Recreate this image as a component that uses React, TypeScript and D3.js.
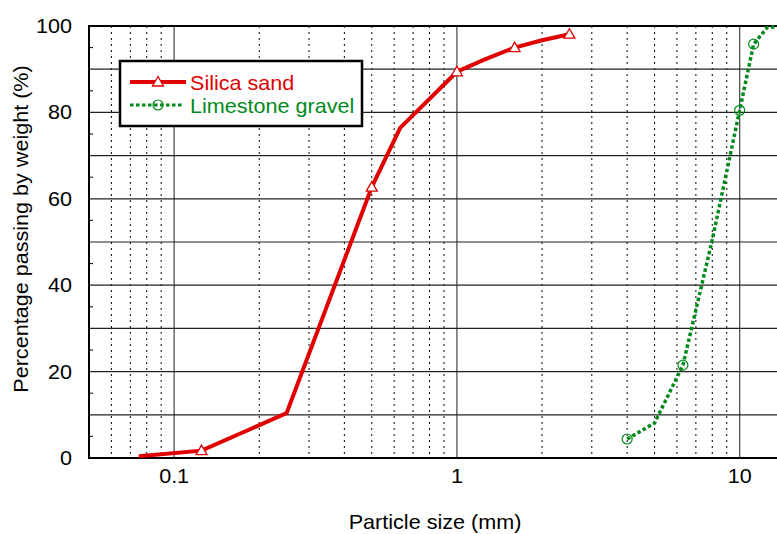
import React from "react";
import * as d3 from "d3";

const sandSize = [0.075, 0.125, 0.25, 0.5, 0.63, 1.0, 1.25, 1.6, 2.0, 2.5];
const sandPass = [0.4, 1.7, 10.4, 62.7, 76.4, 89.4, 92.2, 95.0, 96.7, 98.1];
const sandMarked = [false, true, false, true, false, true, false, true, false, true];

const gravelSize = [4.0, 5.0, 6.3, 8.0, 10.0, 11.2, 12.5, 14.0, 16.0];
const gravelPass = [4.4, 8.1, 21.5, 50.5, 80.5, 95.8, 99.6, 100, 100];
const gravelMarked = [true, false, true, false, true, true, false, false, false];

const yTicks = [0, 20, 40, 60, 80, 100];
const xTickLabels = [0.1, 1, 10];
const seriesNames = ["Silica sand", "Limestone gravel"];

const W = 777;
const H = 534;
const M = { left: 89, top: 26, right: 781, bottom: 458 };
const SX = 1.08;

export default function App() {
  const x = d3.scaleLog().domain([0.05, 14]).range([M.left, M.right]);
  const y = d3.scaleLinear().domain([0, 100]).range([M.bottom, M.top]);
  const font = "'Liberation Sans', Arial, sans-serif";

  const minor: number[] = [];
  [0.01, 0.1, 1, 10].forEach((d) => {
    for (let k = 2; k <= 9; k++) {
      const v = d * k;
      if (v > 0.05 && v < 14) minor.push(v);
    }
  });
  const hGrid = d3.range(10, 100, 10);
  const yMinor = d3.range(5, 100, 10);

  const line = d3
    .line<[number, number]>()
    .x((d) => x(d[0]))
    .y((d) => y(d[1]));

  const sandPts = sandSize.map((s, i) => [s, sandPass[i]] as [number, number]);
  const gravelPts = gravelSize.map((s, i) => [s, gravelPass[i]] as [number, number]);

  const red = "#e00000";
  const green = "#008a1c";

  const tri = (cx: number, cy: number, key: string) => (
    <path
      key={key}
      d={`M${cx},${cy - 5.5} L${cx + 5.5},${cy + 4} L${cx - 5.5},${cy + 4} Z`}
      fill="white"
      stroke={red}
      strokeWidth={1.3}
    />
  );
  const circ = (cx: number, cy: number, key: string) => (
    <circle key={key} cx={cx} cy={cy} r={5} fill="none" stroke={green} strokeWidth={1.2} />
  );

  const T = (
    px: number,
    py: number,
    s: string,
    anchor: "start" | "middle" | "end",
    fill = "#000",
    size = 20,
    key?: string
  ) => (
    <g key={key} transform={`translate(${px},${py}) scale(${SX},1)`}>
      <text x={0} y={0} textAnchor={anchor} fontSize={size} fill={fill}>
        {s}
      </text>
    </g>
  );

  return (
    <svg
      width={W}
      height={H}
      style={{ position: "absolute", left: 0, top: 0, background: "white" }}
      fontFamily={font}
    >
      <defs>
        <clipPath id="plot">
          <rect x={M.left} y={M.top - 4} width={M.right - M.left} height={M.bottom - M.top + 4} />
        </clipPath>
      </defs>
      <rect x={0} y={0} width={W} height={H} fill="white" />
      {minor.map((v) => (
        <line
          key={"mv" + v}
          x1={x(v)}
          x2={x(v)}
          y1={M.top}
          y2={M.bottom}
          stroke="#000"
          strokeWidth={1}
          strokeDasharray="2,4"
        />
      ))}
      {xTickLabels.map((v) => (
        <line key={"Mv" + v} x1={x(v)} x2={x(v)} y1={M.top} y2={M.bottom} stroke="#444" strokeWidth={1.2} />
      ))}
      {hGrid.map((v) => (
        <line key={"h" + v} x1={M.left} x2={M.right} y1={y(v)} y2={y(v)} stroke="#222" strokeWidth={1.2} />
      ))}
      {yMinor.map((v) => (
        <g key={"ym" + v}>
          <line x1={M.left} x2={M.left + 4} y1={y(v)} y2={y(v)} stroke="#000" strokeWidth={1} />
          <line x1={M.right - 4} x2={M.right} y1={y(v)} y2={y(v)} stroke="#000" strokeWidth={1} />
        </g>
      ))}
      <rect
        x={M.left}
        y={M.top}
        width={M.right - M.left}
        height={M.bottom - M.top}
        fill="none"
        stroke="#000"
        strokeWidth={2}
      />
      {yTicks.map((v) => T(72, y(v) + 7, String(v), "end", "#000", 20, "yt" + v))}
      {xTickLabels.map((v) => T(x(v), 483, String(v), "middle", "#000", 20, "xt" + v))}
      {T(435, 529, "Particle size (mm)", "middle")}
      <g transform={`translate(28,229) rotate(-90) scale(${SX},1)`}>
        <text x={0} y={0} textAnchor="middle" fontSize={20} fill="#000">
          Percentage passing by weight (%)
        </text>
      </g>
      <g clipPath="url(#plot)">
        <path d={line(sandPts) || ""} fill="none" stroke={red} strokeWidth={4} strokeLinejoin="miter" />
        {sandPts.map((p, i) => (sandMarked[i] ? tri(x(p[0]), y(p[1]), "s" + i) : null))}
        <path
          d={line(gravelPts) || ""}
          fill="none"
          stroke={green}
          strokeWidth={3.5}
          strokeDasharray="3.5,2.5"
        />
        {gravelPts.map((p, i) => (gravelMarked[i] ? circ(x(p[0]), y(p[1]), "g" + i) : null))}
      </g>
      <rect x={120} y={61} width={242} height={65} fill="white" stroke="#000" strokeWidth={2.5} />
      <line x1={130} x2={186} y1={82} y2={82} stroke={red} strokeWidth={4} />
      {tri(158, 82, "lt")}
      {T(190, 90, seriesNames[0], "start", red, 20)}
      <line x1={130} x2={184} y1={105} y2={105} stroke={green} strokeWidth={3} strokeDasharray="3.5,2.5" />
      {circ(158, 105, "lc")}
      {T(190, 113, seriesNames[1], "start", green, 20)}
    </svg>
  );
}
